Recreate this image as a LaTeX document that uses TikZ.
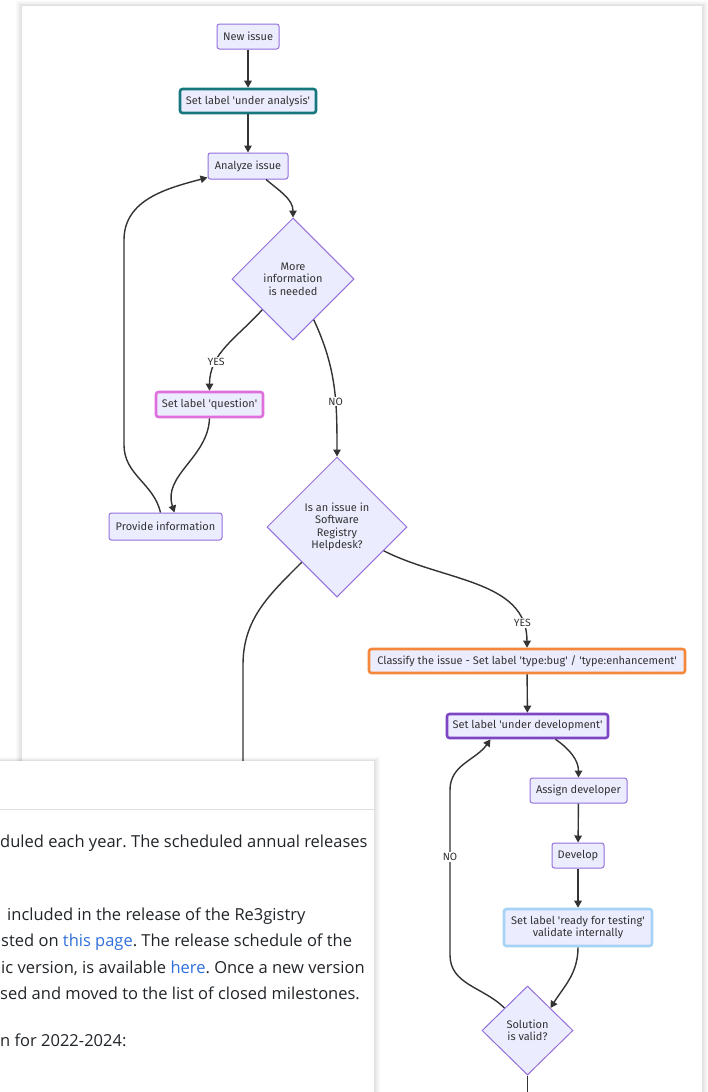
\documentclass[tikz,border=0pt]{standalone}
\usepackage{fontspec}
\setmainfont{Open Sans}
\newfontfamily\chartfont{Fira Sans}[Ligatures=TeXOff]
\usetikzlibrary{arrows.meta,shapes.geometric}
\frenchspacing

\definecolor{nodefill}{HTML}{ECECFF}
\definecolor{nodeline}{HTML}{9370DB}
\definecolor{edgeline}{HTML}{333333}
\definecolor{tealline}{HTML}{17777D}
\definecolor{orchidline}{HTML}{DE6FDC}
\definecolor{orangeline}{HTML}{F5873A}
\definecolor{devline}{HTML}{7D45C4}
\definecolor{testline}{HTML}{A5D3F5}
\definecolor{pagetext}{HTML}{212529}
\definecolor{linkblue}{HTML}{2F6FDB}

\begin{document}
\begin{tikzpicture}[x=1pt,y=1pt,
  box/.style={draw=nodeline, fill=nodefill, line width=1pt, rounded corners=2.5pt,
    inner sep=0pt, align=center, text=edgeline, font=\chartfont\fontsize{11}{12.5}\selectfont},
  choice/.style={box, diamond, rounded corners=0pt, aspect=1},
  arr/.style={draw=edgeline, line width=1.4pt, -{Triangle[length=7pt,width=7.5pt]}},
  line/.style={draw=edgeline, line width=1.4pt},
  lbl/.style={fill=white, inner sep=1pt, text=edgeline, font=\chartfont\fontsize{10.5}{12}\selectfont},
  para/.style={anchor=base west, inner sep=0pt, text=pagetext, font=\fontsize{16.5}{19}\selectfont}
]
\useasboundingbox (0,0) rectangle (708,-1092);
\fill[white] (0,0) rectangle (708,-1092);
\foreach \s in {1,...,6}
  \fill[black, opacity=0.018] (22-\s,-6+0.8*\s) rectangle (702+\s,-1092);
\fill[white] (22,-6) rectangle (702,-1092);

\node[box, minimum width=62, minimum height=25] (new) at (248,-36.5) {New issue};
\node[box, draw=tealline, line width=2.6pt, minimum width=136, minimum height=24] (ual) at (248,-101) {Set label 'under analysis'};
\node[box, minimum width=80, minimum height=26] (ana) at (248,-166) {Analyze issue};
\node[choice, minimum width=122, minimum height=122] (more) at (293,-279) {More\\information\\is needed};
\node[box, draw=orchidline, line width=2.6pt, minimum width=107, minimum height=25] (quest) at (209.5,-404.5) {Set label 'question'};
\node[box, minimum width=113, minimum height=27] (prov) at (165.5,-526.5) {Provide information};
\node[choice, minimum width=140, minimum height=140] (desk) at (337,-527) {Is an issue in\\Software\\Registry\\Helpdesk?};
\node[box, draw=orangeline, line width=2.6pt, minimum width=316, minimum height=24] (classify) at (527,-661) {Classify the issue - Set label 'type:bug' / 'type:enhancement'};
\node[box, draw=devline, line width=2.6pt, minimum width=161, minimum height=24] (undev) at (527.5,-726) {Set label 'under development'};
\node[box, minimum width=97, minimum height=25] (assign) at (578.5,-790.5) {Assign developer};
\node[box, minimum width=52, minimum height=25] (develop) at (578,-855.5) {Develop};
\node[box, draw=testline, line width=2.6pt, minimum width=148, minimum height=37] (ready) at (578,-927.5) {Set label 'ready for testing'\\validate internally};
\node[choice, minimum width=91, minimum height=89] (valid) at (527.5,-1030.5) {Solution\\is valid?};
\coordinate (leftend) at (243,-775);
\coordinate (downend) at (527.5,-1092);

\draw[arr] (new) -- (ual);
\draw[arr] (ual) -- (ana);
\draw[arr] ([xshift=18pt]ana.south) to[out=-40,in=90] (more.north);
\draw[arr] (more.south west) to[out=-132,in=90] node[lbl, pos=0.7] {YES} (quest.north);
\draw[arr] (more.-63) to[out=-65,in=90] node[lbl, pos=0.62] {NO} (desk.north);
\draw[arr] (quest.south) to[out=-92,in=108] ([xshift=9pt]prov.north);
\draw[arr] ([xshift=-5pt]prov.north) to[out=103,in=-90] (124,-445) -- (124,-240) to[out=90,in=195] ([yshift=2pt]ana.south west);
\draw[line] (desk.south west) to[out=-135,in=90] (243,-665) -- (leftend);
\draw[arr] (desk.-27) to[out=-27,in=90] node[lbl, pos=0.86] {YES} (classify.north);
\draw[arr] (classify) -- (undev);
\draw[arr] ([xshift=28pt]undev.south) to[out=-35,in=90] (assign.north);
\draw[arr] (assign) -- (develop);
\draw[arr] (develop) -- (ready);
\draw[arr] (ready.south) to[out=-90,in=58] (valid.north east);
\draw[arr] (valid.north west) to[out=135,in=-90] (450,-955) -- (450,-790) to[out=90,in=-125] ([xshift=-37pt]undev.south);
\node[lbl] at (450,-857) {NO};
\draw[line] (valid.south) -- (downend);

\foreach \s in {1,...,6}
  \fill[black, opacity=0.02] (-5,-761+0.6*\s) rectangle (374+\s,-1092);
\fill[white] (-5,-761) rectangle (374,-1092);
\draw[black!12, line width=0.8pt] (-5,-809) -- (374,-809);
\node[para] (l1) at (0,-847.5) {duled each year. The scheduled annual releases};
\node[para] (l2) at (7,-920) {included in the release of the Re3gistry};
\node[para] (l3) at (1,-946.5) {sted on \textcolor{linkblue}{this page}. The release schedule of the};
\node[para] (l4) at (1,-973) {ic version, is available \textcolor{linkblue}{here}. Once a new version};
\node[para] (l5) at (0,-999.5) {sed and moved to the list of closed milestones.};
\node[para] (l6) at (0,-1046.5) {n for 2022-2024:};
\end{tikzpicture}
\end{document}
